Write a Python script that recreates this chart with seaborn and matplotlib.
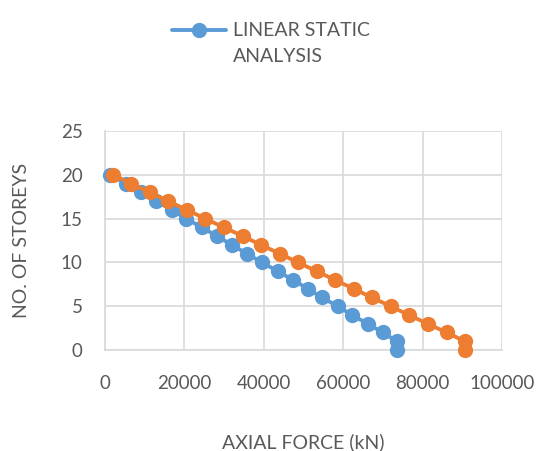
import matplotlib
matplotlib.use("Agg")
import matplotlib.pyplot as plt
import seaborn as sns
import pandas as pd

storeys = [20, 19, 18, 17, 16, 15, 14, 13, 12, 11, 10, 9, 8, 7, 6, 5, 4, 3, 2, 1, 0]
linear_static = [1260, 5280, 9060, 12830, 16860, 20380, 24400, 28180, 31950, 35720,
                 39500, 43520, 47300, 51070, 54590, 58620, 62140, 66160, 69940, 73460, 73460]
second_series = [2010, 6540, 11320, 15850, 20630, 25160, 29940, 34720, 39250, 44030,
                 48550, 53330, 57860, 62640, 67170, 71950, 76480, 81260, 86040, 90570, 90570]
x_ticks = [0, 20000, 40000, 60000, 80000, 100000]
y_ticks = [0, 5, 10, 15, 20, 25]

sns.set_style("white")
plt.rcParams['font.family'] = ['Lato', 'DejaVu Sans']

GRAY = "#595959"
GRID = "#D9D9D9"
BLUE = "#5B9BD5"
ORANGE = "#ED7D31"

fig = plt.figure(figsize=(5.39, 4.51), dpi=100)
ax = fig.add_axes([105/539, 1-350/451, (502-105)/539, (350-131)/451])

df1 = pd.DataFrame({"force": linear_static, "storey": storeys})
df2 = pd.DataFrame({"force": second_series, "storey": storeys})

sns.lineplot(data=df1, x="force", y="storey", estimator=None, sort=False, ax=ax,
             color=BLUE, marker="o", markersize=11, markeredgewidth=0, linewidth=2.8,
             label="LINEAR STATIC", clip_on=False, zorder=3)
sns.lineplot(data=df2, x="force", y="storey", estimator=None, sort=False, ax=ax,
             color=ORANGE, marker="o", markersize=11, markeredgewidth=0, linewidth=2.8,
             label="_nolegend_", clip_on=False, zorder=4)

ax.set_xlim(0, 100000)
ax.set_ylim(0, 25)
ax.set_xticks(x_ticks)
ax.set_yticks(y_ticks)
ax.grid(True, color=GRID, linewidth=1.2)
ax.set_axisbelow(True)
for s in ["top", "right"]:
    ax.spines[s].set_visible(False)
for s in ["left", "bottom"]:
    ax.spines[s].set_color(GRID)
    ax.spines[s].set_linewidth(1.2)
ax.tick_params(axis="both", length=0, labelsize=13.5, labelcolor=GRAY)
ax.tick_params(axis="y", pad=16)
ax.tick_params(axis="x", pad=18)
ax.set_xlabel("AXIAL FORCE (kN)", fontsize=14, color=GRAY, labelpad=30)
ax.set_ylabel("NO. OF STOREYS", fontsize=14, color=GRAY, labelpad=22)

leg = ax.legend(loc="upper center", bbox_to_anchor=(271/539, 1-5/451),
                bbox_transform=fig.transFigure, frameon=False, fontsize=14,
                handlelength=2.8, handletextpad=0.35, labelcolor=GRAY)

fig.canvas.draw()
txt = leg.get_texts()[0]
bb = txt.get_window_extent()
x0, y0 = fig.transFigure.inverted().transform((bb.x0, bb.y0))
fig.text(x0, y0 - 9/451, "ANALYSIS", fontsize=14, color=GRAY, ha="left", va="top")

fig.savefig("out.png", dpi=100)
